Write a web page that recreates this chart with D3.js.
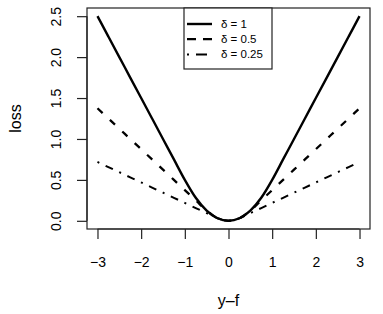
<!DOCTYPE html>
<html>
<head>
<meta charset="utf-8">
<script src="https://cdn.jsdelivr.net/npm/d3@7"></script>
<style>
  body { margin: 0; background: #fff; }
  text { font-family: "Liberation Sans", Arial, sans-serif; fill: #000; }
</style>
</head>
<body>
<svg id="chart"></svg>
<script>
var width = 383;
var height = 314;

// values
var xs = [-3, -2.75, -2.5, -2.25, -2, -1.75, -1.5, -1.25, -1, -0.75, -0.5, -0.25, 0,
          0.25, 0.5, 0.75, 1, 1.25, 1.5, 1.75, 2, 2.25, 2.5, 2.75, 3];
var loss1 = [2.5, 2.25, 2.0, 1.75, 1.5, 1.25, 1.0, 0.75, 0.5, 0.281, 0.125, 0.031, 0,
             0.031, 0.125, 0.281, 0.5, 0.75, 1.0, 1.25, 1.5, 1.75, 2.0, 2.25, 2.5];
var loss05 = [1.375, 1.25, 1.125, 1.0, 0.875, 0.75, 0.625, 0.5, 0.375, 0.25, 0.125, 0.031, 0,
              0.031, 0.125, 0.25, 0.375, 0.5, 0.625, 0.75, 0.875, 1.0, 1.125, 1.25, 1.375];
var loss025 = [0.719, 0.656, 0.594, 0.531, 0.469, 0.406, 0.344, 0.281, 0.219, 0.156, 0.094, 0.031, 0,
               0.031, 0.094, 0.156, 0.219, 0.281, 0.344, 0.406, 0.469, 0.531, 0.594, 0.656, 0.719];
var legendLabels = ["\u03b4 = 1", "\u03b4 = 0.5", "\u03b4 = 0.25"];
var xTicks = [-3, -2, -1, 0, 1, 2, 3];
var yTicks = [0, 0.5, 1, 1.5, 2, 2.5];

var series = [
  { values: loss1, dash: null, legendDash: null, lw: 2.4 },
  { values: loss05, dash: "7,10", legendDash: "9,7", lw: 2.3 },
  { values: loss025, dash: "2,7,8,7", legendDash: "2,7,11,7", lw: 2 }
];

var plotL = 87, plotR = 370, plotT = 8, plotB = 229;

var svg = d3.select("#chart")
  .attr("width", width)
  .attr("height", height);

// R style 4% padding
var x = d3.scaleLinear().domain([-3.24, 3.24]).range([plotL, plotR]);
var y = d3.scaleLinear().domain([-0.1, 2.6]).range([plotB, plotT]);

var line = d3.line()
  .x(function(d) { return x(d[0]); })
  .y(function(d) { return y(d[1]); })
  .curve(d3.curveMonotoneX);

series.forEach(function(s) {
  svg.append("path")
    .datum(xs.map(function(v, i) { return [v, s.values[i]]; }))
    .attr("d", line)
    .attr("fill", "none")
    .attr("stroke", "#000")
    .attr("stroke-width", s.lw)
    .attr("stroke-dasharray", s.dash);
});

// box
svg.append("rect")
  .attr("x", plotL)
  .attr("y", plotT)
  .attr("width", plotR - plotL)
  .attr("height", plotB - plotT)
  .attr("fill", "none")
  .attr("stroke", "#222")
  .attr("stroke-width", 1.2);

// x axis
var xAxis = svg.append("g")
  .attr("transform", "translate(0," + plotB + ")")
  .call(d3.axisBottom(x).tickValues(xTicks).tickSize(10).tickPadding(18)
    .tickFormat(function(d) { return d < 0 ? "\u2212" + Math.abs(d) : d; }));
xAxis.select(".domain").attr("d", "M" + x(-3) + ",0H" + x(3)).attr("stroke", "#222").attr("stroke-width", 1.2);
xAxis.selectAll(".tick line").attr("stroke", "#222").attr("stroke-width", 1.2);
xAxis.selectAll("text").attr("font-size", 14).attr("font-family", "Liberation Sans, Arial, sans-serif");

// y axis, labels rotated like R
var yAxis = svg.append("g")
  .attr("transform", "translate(" + plotL + ",0)")
  .call(d3.axisLeft(y).tickValues(yTicks).tickSize(10)
    .tickFormat(d3.format(".1f")));
yAxis.select(".domain").attr("d", "M0," + y(0) + "V" + y(2.5)).attr("stroke", "#222").attr("stroke-width", 1.2);
yAxis.selectAll(".tick line").attr("stroke", "#222").attr("stroke-width", 1.2);
yAxis.selectAll("text")
  .attr("font-size", 14)
  .attr("font-family", "Liberation Sans, Arial, sans-serif")
  .attr("x", 0)
  .attr("y", 0)
  .attr("text-anchor", "middle")
  .attr("transform", "translate(-31,0) rotate(-90)")
  .attr("dy", "0.35em");

// axis titles
svg.append("text")
  .attr("x", x(0))
  .attr("y", 306)
  .attr("text-anchor", "middle")
  .attr("font-size", 16)
  .text("y\u2013f");

svg.append("text")
  .attr("transform", "translate(21," + ((plotT + plotB) / 2) + ") rotate(-90)")
  .attr("text-anchor", "middle")
  .attr("font-size", 16)
  .text("loss");

// legend
var lgX = 184, lgY = 8, lgW = 88, lgH = 61;
var legend = svg.append("g");
legend.append("rect")
  .attr("x", lgX)
  .attr("y", lgY)
  .attr("width", lgW)
  .attr("height", lgH)
  .attr("fill", "#fff")
  .attr("stroke", "#222")
  .attr("stroke-width", 1.2);

legendLabels.forEach(function(lbl, i) {
  var ly = 24 + i * 15.2;
  legend.append("line")
    .attr("x1", 187)
    .attr("x2", 212)
    .attr("y1", ly)
    .attr("y2", ly)
    .attr("stroke", "#000")
    .attr("stroke-width", series[i].lw)
    .attr("stroke-dasharray", series[i].legendDash);
  legend.append("text")
    .attr("x", 221)
    .attr("y", ly)
    .attr("dy", "0.35em")
    .attr("font-size", 11.5)
    .text(lbl);
});
</script>
</body>
</html>
